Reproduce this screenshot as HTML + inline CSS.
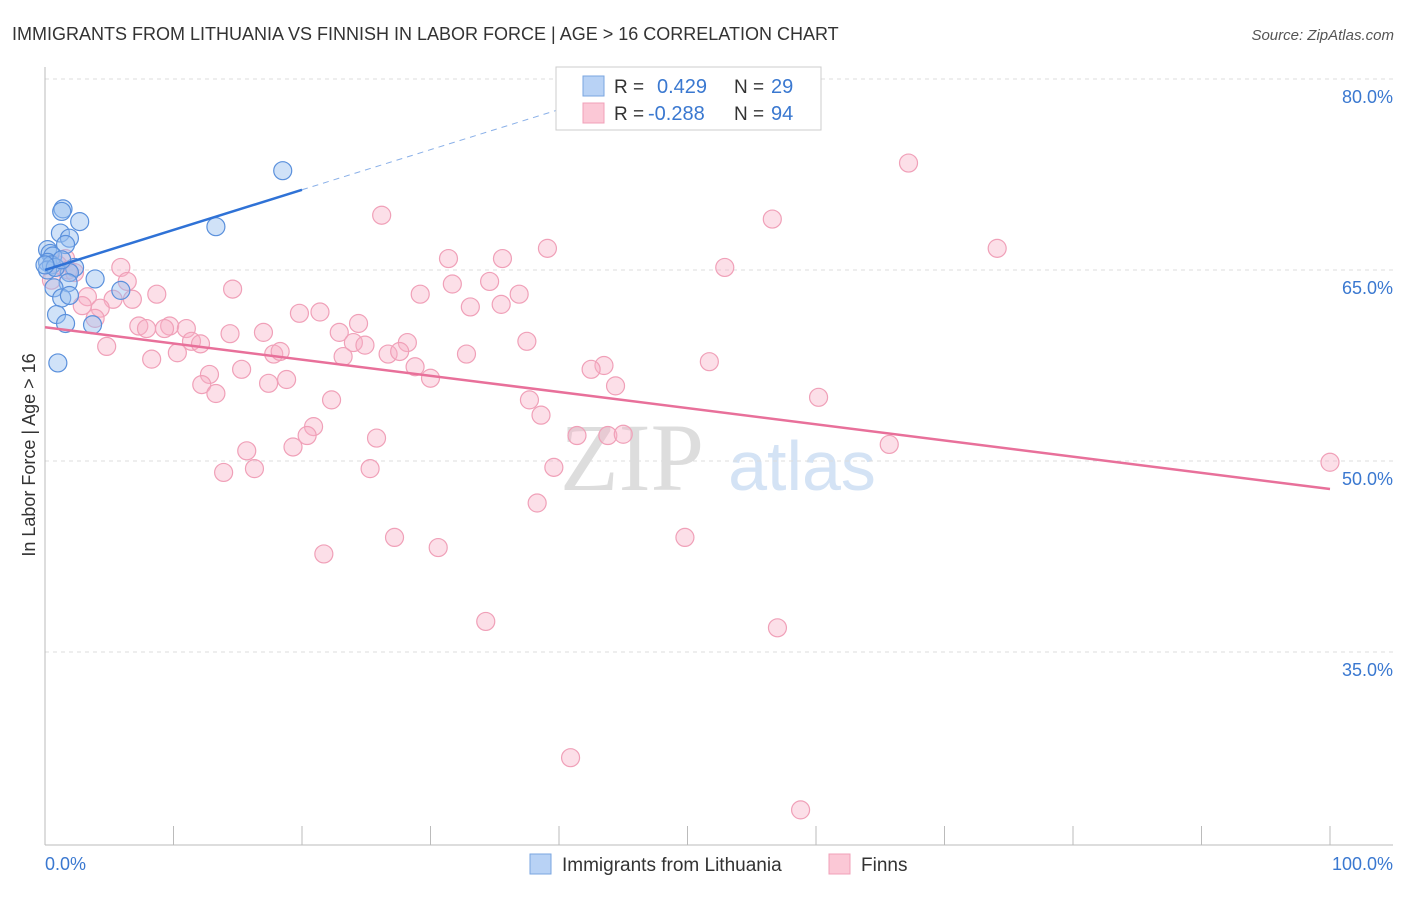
<!DOCTYPE html>
<html><head><meta charset="utf-8"><style>
body{margin:0;background:#fff;font-family:"Liberation Sans",sans-serif}
svg text{font-family:"Liberation Sans",sans-serif}
</style></head><body>
<svg id="c" width="1406" height="892" xmlns="http://www.w3.org/2000/svg">
<text x="12" y="40" font-size="18" fill="#333">IMMIGRANTS FROM LITHUANIA VS FINNISH IN LABOR FORCE | AGE &gt; 16 CORRELATION CHART</text>
<text x="1394" y="40" font-size="15" fill="#555" font-style="italic" text-anchor="end">Source: ZipAtlas.com</text>
<text x="632" y="490" font-size="96" fill="#ddd" font-family="Liberation Serif" text-anchor="middle" style="font-family:'Liberation Serif',serif">ZIP</text>
<text x="802" y="490" font-size="70" fill="#d4e3f5" text-anchor="middle">atlas</text>
<g id="grid"></g><g id="axes"></g><g id="pts"></g><g id="lines"></g>
<text x="35" y="455" font-size="18" fill="#333" text-anchor="middle" transform="rotate(-90 35 455)">In Labor Force | Age &gt; 16</text>
<text x="45" y="870" font-size="18" fill="#3a78d0">0.0%</text>
<text x="1393" y="870" font-size="18" fill="#3a78d0" text-anchor="end">100.0%</text>
<g>
<rect x="556" y="67" width="265" height="63" fill="#fff" stroke="#ccc"/>
<rect x="583" y="76" width="21" height="20" fill="#b8d2f5" stroke="#7aa6e0"/>
<rect x="583" y="103" width="21" height="20" fill="#fbc8d6" stroke="#f0a0b8"/>
<text x="614" y="93" font-size="19" fill="#333">R = </text><text x="657" y="93" font-size="20" fill="#3a78d0">0.429</text>
<text x="734" y="93" font-size="19" fill="#333">N = </text><text x="771" y="93" font-size="20" fill="#3a78d0">29</text>
<text x="614" y="120" font-size="19" fill="#333">R = </text><text x="648" y="120" font-size="20" fill="#3a78d0">-0.288</text>
<text x="734" y="120" font-size="19" fill="#333">N = </text><text x="771" y="120" font-size="20" fill="#3a78d0">94</text>
</g>
<g>
<rect x="530" y="854" width="21" height="20" fill="#b8d2f5" stroke="#7aa6e0"/>
<text x="562" y="871" font-size="19" fill="#333">Immigrants from Lithuania</text>
<rect x="829" y="854" width="21" height="20" fill="#fbc8d6" stroke="#f0a0b8"/>
<text x="861" y="871" font-size="19" fill="#333">Finns</text>
</g>
</svg>
<script>
const yTicks=[80,65,50,35];
const yTickLabels=["80.0%","65.0%","50.0%","35.0%"];
const xTicks=[0,10,20,30,40,50,60,70,80,90,100];
const blueX=[18.5,1.4,1.3,2.7,13.3,1.2,1.9,1.6,0.2,0.4,0.6,0.2,0.5,2.3,1.9,3.9,1.8,0.7,5.9,1.3,1.9,0.9,1.6,3.7,1.0,0.2,0.8,1.3,0.0];
const blueY=[72.8,69.8,69.6,68.8,68.4,67.9,67.5,67.0,66.6,66.3,66.1,65.6,65.4,65.2,64.8,64.3,64.0,63.6,63.4,62.8,63.0,61.5,60.8,60.7,57.7,65.0,65.2,65.8,65.4];
const pinkX=[67.2,26.2,56.6,74.1,39.1,31.4,35.6,52.9,5.9,1.6,1.0,1.8,2.3,0.5,6.4,14.6,31.7,34.6,29.2,36.9,8.7,3.3,5.3,6.8,2.9,4.3,33.1,35.5,19.8,21.4,3.9,7.3,7.9,9.7,9.3,11.0,14.4,17.0,22.9,24.4,11.4,12.1,37.5,24.0,24.9,28.2,4.8,10.3,17.8,18.3,23.2,26.7,27.6,32.8,8.3,51.7,43.5,42.5,28.8,15.3,30.0,12.8,12.2,17.4,18.8,44.4,13.3,22.3,60.2,37.7,38.6,20.9,41.4,43.8,45.0,20.4,25.8,65.7,15.7,19.3,100.0,13.9,16.3,25.3,39.6,38.3,27.2,49.8,30.6,21.7,34.3,57.0,40.9,58.8];
const pinkY=[73.4,69.3,69.0,66.7,66.7,65.9,65.9,65.2,65.2,65.9,65.4,65.0,64.8,64.2,64.1,63.5,63.9,64.1,63.1,63.1,63.1,62.9,62.7,62.7,62.2,62.0,62.1,62.3,61.6,61.7,61.2,60.6,60.4,60.6,60.4,60.4,60.0,60.1,60.1,60.8,59.4,59.2,59.4,59.3,59.1,59.3,59.0,58.5,58.4,58.6,58.2,58.4,58.6,58.4,58.0,57.8,57.5,57.2,57.4,57.2,56.5,56.8,56.0,56.1,56.4,55.9,55.3,54.8,55.0,54.8,53.6,52.7,52.0,52.0,52.1,52.0,51.8,51.3,50.8,51.1,49.9,49.1,49.4,49.4,49.5,46.7,44.0,44.0,43.2,42.7,37.4,36.9,26.7,22.6];
const blueFit=[65.0,71.3]; // at x=0, x=20
const pinkFit=[60.5,47.8]; // at x=0, x=100
const NS="http://www.w3.org/2000/svg";
const sx=v=>45+v*12.85, sy=v=>79+(80-v)*191/15;
function mk(t,a,p){const e=document.createElementNS(NS,t);for(const k in a)e.setAttribute(k,a[k]);document.getElementById(p).appendChild(e);return e;}
yTicks.forEach((t,i)=>{
 const l=mk('line',{x1:45,x2:1393,y1:sy(t),y2:sy(t),stroke:'#ddd','stroke-dasharray':'4,4'},'grid');
 
 
 const tx=mk('text',{x:1393,y:sy(t)+24,'font-size':18,fill:'#3a78d0','text-anchor':'end'},'grid');
 tx.textContent=yTickLabels[i];
 
 
});
const ya=mk('line',{x1:45,x2:45,y1:67,y2:845,stroke:'#bbb'},'axes');


const xa=mk('line',{x1:45,x2:1393,y1:845,y2:845,stroke:'#bbb'},'axes');


xTicks.forEach(t=>{const l=mk('line',{x1:sx(t),x2:sx(t),y1:826,y2:845,stroke:'#bbb'},'axes');
 
 });
pinkX.forEach((x,i)=>{const c=mk('circle',{cx:sx(x),cy:sy(pinkY[i]),r:9,fill:'rgba(248,175,198,0.4)',stroke:'#f0a0b8','stroke-width':1.2},'pts');
 
 });
blueX.forEach((x,i)=>{const c=mk('circle',{cx:sx(x),cy:sy(blueY[i]),r:9,fill:'rgba(150,190,240,0.45)',stroke:'#5a90dc','stroke-width':1.2},'pts');
 
 });
const bs=(blueFit[1]-blueFit[0])/20;
const b1=mk('line',{x1:sx(0),y1:sy(blueFit[0]),x2:sx(20),y2:sy(blueFit[1]),stroke:'#2f72d6','stroke-width':2.5},'lines');


const b2=mk('line',{x1:sx(20),y1:sy(blueFit[1]),x2:sx(42),y2:sy(blueFit[0]+bs*42),stroke:'#8ab0e8','stroke-width':1,'stroke-dasharray':'6,5'},'lines');


const p1=mk('line',{x1:sx(0),y1:sy(pinkFit[0]),x2:sx(100),y2:sy(pinkFit[1]),stroke:'#e8709a','stroke-width':2.5},'lines');


</script>
</body></html>
